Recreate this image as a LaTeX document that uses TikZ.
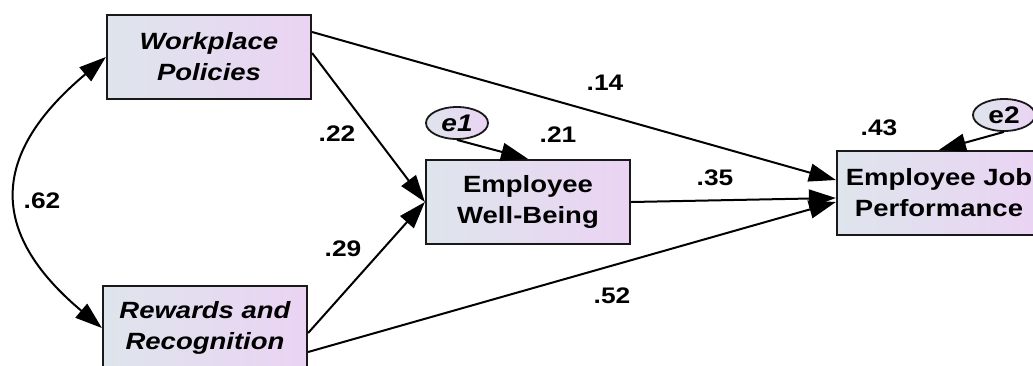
\documentclass[tikz,border=0pt]{standalone}
\usepackage{fontspec}
\setmainfont{Liberation Sans}
\newfontfamily\amosfont[FakeStretch=1.17]{Liberation Sans}
\usetikzlibrary{arrows.meta,shapes.geometric}
\definecolor{fillL}{RGB}{222,229,236}
\definecolor{fillR}{RGB}{235,211,243}
\definecolor{edge}{RGB}{25,25,25}
\tikzset{
  box/.style={rectangle, draw=edge, line width=2.2pt, minimum width=204pt, minimum height=84pt,
    inner sep=0pt, align=center, left color=fillL, right color=fillR,
    font=\amosfont\bfseries\fontsize{23.5}{31}\selectfont},
  err/.style={ellipse, draw=edge, line width=1.8pt, minimum width=62pt, minimum height=32pt,
    inner sep=0pt, left color=fillL, right color=fillR,
    font=\amosfont\bfseries\fontsize{24}{26}\selectfont},
  path/.style={line width=2pt, -{Triangle[length=27pt,width=18pt]}},
  lab/.style={font=\amosfont\bfseries\fontsize{22.5}{24}\selectfont, inner sep=0pt}
}
\begin{document}
\begin{tikzpicture}[x=1pt,y=1pt]
\useasboundingbox (0,0) rectangle (1033,-365);
\clip (0,0) rectangle (1033,-365);
\node[box] (wp) at (209,-57) {\itshape Workplace\\\itshape Policies};
\node[box] (rr) at (205,-328) {\itshape Rewards and\\\itshape Recognition};
\node[box] (wb) at (528,-202) {Employee\\Well-Being};
\node[box] (job) at (939,-193) {Employee Job\\Performance};
\node[err] (e1) at (457,-123) {\itshape e1};
\node[err] (e2) at (1004,-115) {e2};

\draw[path] ([yshift=25pt]wp.east) -- ([yshift=13pt]job.west);
\draw[path] ([yshift=4pt]wp.east) -- (wb.west);
\draw[path] ([yshift=-5pt]rr.east) -- (wb.west);
\draw[path] ([yshift=-24pt]rr.east) -- ([yshift=-9pt]job.west);
\draw[path] (wb.east) -- ([yshift=-5pt]job.west);
\draw[path] (e1.south) -- (wb.north);
\draw[path] (e2.south) -- (job.north);
\draw[line width=2pt, {Triangle[length=27pt,width=18pt]}-{Triangle[length=27pt,width=18pt]}]
  (wp.west) .. controls +(220:150) and +(140:150) .. (rr.west);

\node[lab] (l14) at (605,-83) {.14};
\node[lab] (l22) at (337,-134) {.22};
\node[lab] (l21) at (558,-135) {.21};
\node[lab] (l29) at (343,-249) {.29};
\node[lab] (l52) at (612,-296) {.52};
\node[lab] (l35) at (715,-178) {.35};
\node[lab] (l43) at (879,-128) {.43};
\node[lab] (l62) at (42,-201) {.62};
\end{tikzpicture}
\end{document}
